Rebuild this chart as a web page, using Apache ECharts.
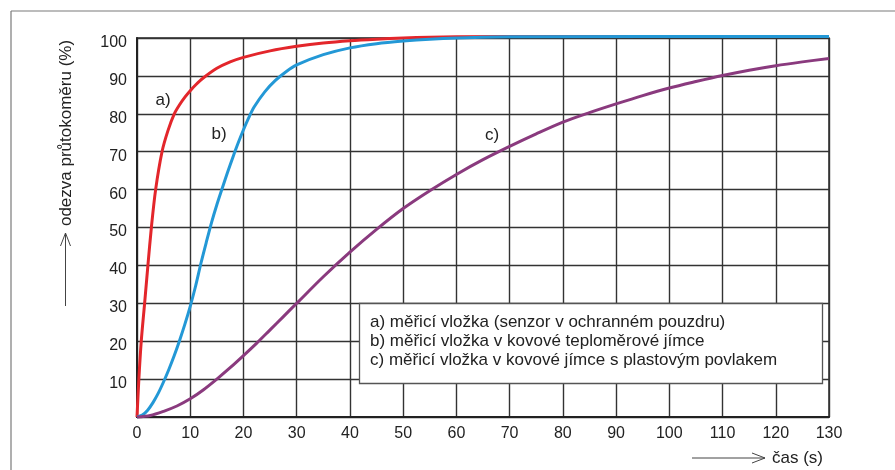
<!DOCTYPE html>
<html>
<head>
<meta charset="utf-8">
<script src="https://cdn.jsdelivr.net/npm/echarts@6/dist/echarts.min.js"></script>
<style>
html,body{margin:0;padding:0;background:#fff;}
#c{width:895px;height:470px;}
</style>
</head>
<body>
<div id="c"></div>
<script>
// ---- data ----
const xTicks = [0, 10, 20, 30, 40, 50, 60, 70, 80, 90, 100, 110, 120, 130];
const yTicks = [10, 20, 30, 40, 50, 60, 70, 80, 90, 100];

const redT = [0, 0.35, 0.8, 1.43, 2.05, 2.7, 3.5, 4.7, 5.8, 7, 8, 9, 10, 11, 12.5, 15, 17.5, 20, 25, 30, 35, 40, 45, 50, 55, 60, 80, 130];
const redV = [0, 10, 20, 30, 40, 50, 60, 70, 75.5, 80, 82.4, 84.4, 86.1, 87.6, 89.5, 92.0, 93.7, 94.9, 96.6, 97.8, 98.7, 99.3, 99.7, 100, 100.2, 100.3, 100.4, 100.4];

const blueT = [0, 1, 2, 3, 4, 5, 6, 7, 8, 9, 10, 11, 12, 13, 14, 15, 16, 17, 18, 19, 20, 21, 22, 24, 26, 28, 30, 35, 40, 45, 50, 55, 60, 70, 130];
const blueV = [0, 0.5, 1.8, 3.8, 6.3, 9.3, 12.6, 16.2, 20.2, 24.5, 29.2, 34.5, 40.5, 46, 51.3, 56, 60.3, 64.5, 68.5, 72.3, 75.8, 79, 81.8, 85.8, 88.8, 91.1, 92.9, 95.6, 97.4, 98.5, 99.2, 99.7, 100, 100.3, 100.4];

const purpleT = [0, 2.5, 5, 7.5, 10, 12.5, 15, 17.5, 20, 22.5, 25, 27.5, 30, 35, 40, 45, 50, 55, 60, 65, 70, 75, 80, 85, 90, 95, 100, 105, 110, 115, 120, 125, 130];
const purpleV = [0, 0.4, 1.5, 2.9, 4.8, 7.2, 10, 13, 16.2, 19.5, 23, 26.5, 30, 37, 43.5, 49.5, 55, 59.7, 64, 67.9, 71.4, 74.7, 77.8, 80.3, 82.6, 84.8, 86.8, 88.5, 90.1, 91.5, 92.7, 93.7, 94.6];

const curveNames = ['a)', 'b)', 'c)'];
const legendLines = [
  'a) měřicí vložka (senzor v ochranném pouzdru)',
  'b) měřicí vložka v kovové teploměrové jímce',
  'c) měřicí vložka v kovové jímce s plastovým povlakem'
];
const yName = 'odezva průtokoměru (%)';
const xName = 'čas (s)';

// ---- chart ----
const FONT = '"Liberation Sans", Arial, Helvetica, sans-serif';
const pairs = (t, v) => t.map((x, i) => [x, v[i]]);
const chart = echarts.init(document.getElementById('c'), null, {renderer: 'canvas'});

function lineSeries(name, t, v, color) {
  return {
    name: name, type: 'line', data: pairs(t, v), showSymbol: false,
    smooth: 0.3, clip: false,
    lineStyle: {color: color, width: 3}, z: 3
  };
}

const option = {
  backgroundColor: '#fff',
  animation: false,
  textStyle: {fontFamily: FONT},
  grid: {left: 137, right: 66, top: 38, bottom: 53, show: true, borderColor: '#2a2a2a', borderWidth: 1.5, outerBoundsMode: 'none', containLabel: false},
  xAxis: {
    type: 'value', min: 0, max: 130, interval: 10,
    axisLine: {show: true, lineStyle: {color: '#222', width: 2}},
    axisTick: {show: false},
    splitLine: {show: true, lineStyle: {color: '#333', width: 1.4}},
    axisLabel: {fontSize: 16, color: '#222', fontFamily: FONT, margin: 9,
      formatter: v => xTicks.includes(v) ? String(v) : ''}
  },
  yAxis: {
    type: 'value', min: 0, max: 100, interval: 10,
    axisLine: {show: true, lineStyle: {color: '#222', width: 2}},
    axisTick: {show: false},
    splitLine: {show: true, lineStyle: {color: '#333', width: 1.4}},
    axisLabel: {fontSize: 16, color: '#222', fontFamily: FONT, margin: 10, verticalAlign: 'top', lineHeight: 9,
      formatter: v => yTicks.includes(v) ? String(v) : ''}
  },
  series: [
    lineSeries(curveNames[0], redT, redV, '#e3262b'),
    lineSeries(curveNames[1], blueT, blueV, '#2398d6'),
    lineSeries(curveNames[2], purpleT, purpleV, '#8a3a7e')
  ],
  graphic: [
    // outer frame
    {type: 'line', shape: {x1: 11, y1: 11, x2: 895, y2: 11}, style: {stroke: '#7a7a7a', lineWidth: 1.2}, silent: true},
    {type: 'line', shape: {x1: 11, y1: 11, x2: 11, y2: 470}, style: {stroke: '#7a7a7a', lineWidth: 1.2}, silent: true},
    // y axis name + arrow
    {type: 'text', x: 66, y: 133, rotation: Math.PI / 2,
      style: {text: yName, font: '17px ' + FONT, fill: '#222', textAlign: 'center', textVerticalAlign: 'middle'}},
    {type: 'line', shape: {x1: 65.5, y1: 306, x2: 65.5, y2: 233}, style: {stroke: '#444', lineWidth: 1}},
    {type: 'polyline', shape: {points: [[60.5, 246], [65.5, 233], [70.5, 246]]}, style: {stroke: '#444', lineWidth: 1, fill: null}},
    // x axis name + arrow
    {type: 'line', shape: {x1: 692, y1: 458, x2: 765, y2: 458}, style: {stroke: '#444', lineWidth: 1}},
    {type: 'polyline', shape: {points: [[752, 453], [765, 458], [752, 463]]}, style: {stroke: '#444', lineWidth: 1, fill: null}},
    {type: 'text', x: 772, y: 458, style: {text: xName, font: '17px ' + FONT, fill: '#222', textAlign: 'left', textVerticalAlign: 'middle'}},
    // curve labels
    {type: 'text', x: 163, y: 100, z: 20, style: {text: curveNames[0], font: '17px ' + FONT, fill: '#222', textAlign: 'center', textVerticalAlign: 'middle'}},
    {type: 'text', x: 219, y: 134, z: 20, style: {text: curveNames[1], font: '17px ' + FONT, fill: '#222', textAlign: 'center', textVerticalAlign: 'middle'}},
    {type: 'text', x: 492, y: 135, z: 20, style: {text: curveNames[2], font: '17px ' + FONT, fill: '#222', textAlign: 'center', textVerticalAlign: 'middle'}},
    // legend box
    {type: 'rect', z: 20, shape: {x: 359.5, y: 303.5, width: 463, height: 80},
      style: {fill: '#fff', stroke: '#555', lineWidth: 1.3}},
    {type: 'text', z: 21, x: 370, y: 322, style: {text: legendLines[0], font: '17px ' + FONT, fill: '#222', textVerticalAlign: 'middle'}},
    {type: 'text', z: 21, x: 370, y: 341, style: {text: legendLines[1], font: '17px ' + FONT, fill: '#222', textVerticalAlign: 'middle'}},
    {type: 'text', z: 21, x: 370, y: 360, style: {text: legendLines[2], font: '17px ' + FONT, fill: '#222', textVerticalAlign: 'middle'}}
  ]
};
chart.setOption(option);
</script>
</body>
</html>
